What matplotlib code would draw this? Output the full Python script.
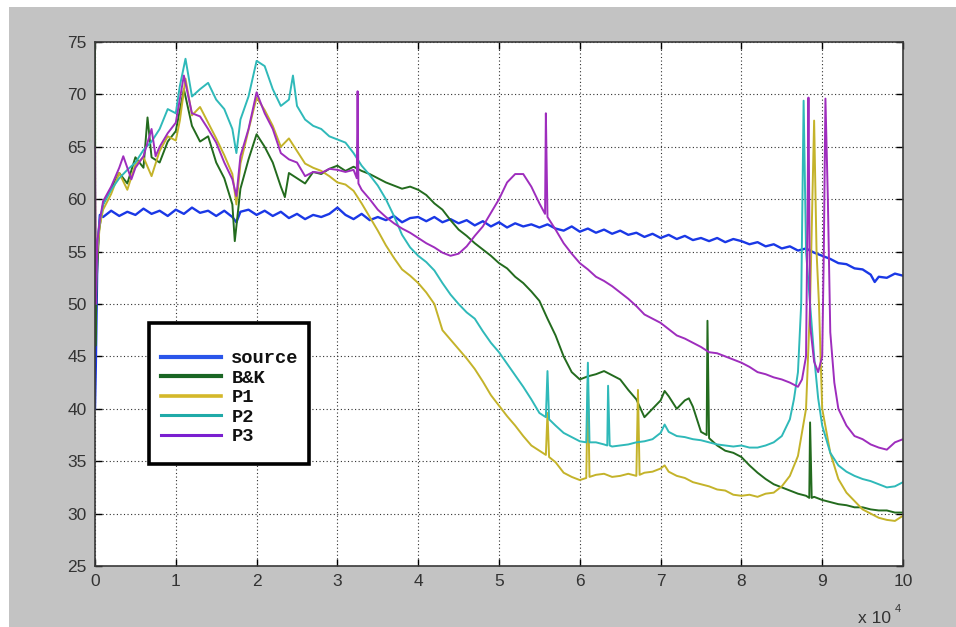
import matplotlib
matplotlib.use("Agg")
import matplotlib.pyplot as plt
from matplotlib.patches import Rectangle

# frequency axis is in units of 10^4, levels in dB
src_x = [0, 0.01, 0.03, 0.06, 0.1, 0.2, 0.3, 0.4, 0.5, 0.6, 0.7, 0.8, 0.9, 1.0,
         1.1, 1.2, 1.3, 1.4, 1.5, 1.6, 1.7, 1.75, 1.8, 1.9, 2.0, 2.1, 2.2, 2.3,
         2.4, 2.5, 2.6, 2.7, 2.8, 2.9, 3.0, 3.1, 3.2, 3.3, 3.4, 3.5, 3.6, 3.7,
         3.8, 3.9, 4.0, 4.1, 4.2, 4.3, 4.4, 4.5, 4.6, 4.7, 4.8, 4.9, 5.0, 5.1,
         5.2, 5.3, 5.4, 5.5, 5.6, 5.7, 5.8, 5.9, 6.0, 6.1, 6.2, 6.3, 6.4, 6.5,
         6.6, 6.7, 6.8, 6.9, 7.0, 7.1, 7.2, 7.3, 7.4, 7.5, 7.6, 7.7, 7.8, 7.9,
         8.0, 8.1, 8.2, 8.3, 8.4, 8.5, 8.6, 8.7, 8.8, 8.9, 9.0, 9.1, 9.2, 9.3,
         9.4, 9.5, 9.6, 9.65, 9.7, 9.8, 9.9, 10.0]
src_y = [40, 44, 55, 58.5, 58.3, 58.9, 58.4, 58.8, 58.5, 59.1, 58.6, 58.9, 58.4, 59.0,
         58.6, 59.2, 58.7, 58.9, 58.4, 58.9, 58.3, 57.8, 58.8, 59.0, 58.5, 58.9, 58.4, 58.8,
         58.2, 58.6, 58.1, 58.5, 58.3, 58.6, 59.2, 58.5, 58.1, 58.6, 58.0, 58.3, 58.0, 58.4,
         57.8, 58.2, 58.3, 57.9, 58.3, 57.8, 58.1, 57.7, 58.0, 57.5, 57.9, 57.4, 57.8, 57.3,
         57.7, 57.4, 57.6, 57.3, 57.6, 57.2, 57.0, 57.4, 56.9, 57.2, 56.8, 57.1, 56.7, 57.0,
         56.6, 56.8, 56.4, 56.7, 56.3, 56.6, 56.2, 56.5, 56.1, 56.3, 56.0, 56.3, 55.9, 56.2,
         56.0, 55.7, 55.9, 55.5, 55.7, 55.3, 55.5, 55.1, 55.3, 54.9, 54.6, 54.3, 53.9, 53.8,
         53.4, 53.3, 52.8, 52.1, 52.6, 52.5, 52.9, 52.7]

bk_x = [0, 0.005, 0.02, 0.05, 0.1, 0.2, 0.3, 0.4, 0.5, 0.6, 0.65, 0.7, 0.8, 0.9, 1.0,
        1.1, 1.2, 1.3, 1.4, 1.5, 1.6, 1.7, 1.73, 1.8, 1.9, 2.0, 2.1, 2.2, 2.3,
        2.35, 2.4, 2.5, 2.6, 2.7, 2.8, 2.9, 3.0, 3.1, 3.2, 3.3, 3.4, 3.5, 3.6,
        3.7, 3.8, 3.9, 4.0, 4.1, 4.2, 4.3, 4.4, 4.5, 4.6, 4.7, 4.8, 4.9, 5.0,
        5.1, 5.2, 5.3, 5.4, 5.5, 5.6, 5.7, 5.8, 5.9, 6.0, 6.1, 6.2, 6.3, 6.4,
        6.5, 6.6, 6.7, 6.8, 6.9, 7.0, 7.05, 7.1, 7.2, 7.3, 7.35, 7.4, 7.5, 7.57,
        7.58, 7.6, 7.7, 7.8, 7.9, 8.0, 8.1, 8.2, 8.3, 8.4, 8.5, 8.6, 8.7, 8.8,
        8.84, 8.85, 8.87, 8.9, 9.0, 9.1, 9.2, 9.3, 9.4, 9.5, 9.6, 9.7, 9.8, 9.9, 10.0]
bk_y = [76, 46, 52, 57, 59.5, 61.0, 62.5, 61.5, 64.0, 63.0, 67.8, 64.0, 63.5, 65.5, 66.5,
        70.5, 67.0, 65.5, 66.0, 63.5, 62.0, 59.5, 56.0, 61.0, 63.8, 66.2, 65.0, 63.5, 61.2,
        60.2, 62.5, 62.0, 61.5, 62.6, 62.4, 62.9, 63.2, 62.7, 63.1, 62.7, 62.4, 62.0, 61.6,
        61.3, 61.0, 61.2, 60.9, 60.4, 59.6, 59.0, 58.0, 57.1, 56.5, 55.8, 55.2, 54.6, 53.9,
        53.4, 52.6, 52.0, 51.2, 50.3, 48.6, 47.0, 45.0, 43.5, 42.8, 43.1, 43.3, 43.6, 43.2,
        42.8, 41.8, 40.9, 39.2, 40.0, 40.8, 41.7, 41.2, 40.0, 40.8, 41.0, 40.2, 37.8, 37.5,
        48.4, 37.2, 36.5, 36.0, 35.8, 35.4, 34.6, 33.9, 33.3, 32.8, 32.5, 32.2, 31.9, 31.7,
        31.5, 38.7, 31.5, 31.6, 31.3, 31.1, 30.9, 30.8, 30.6, 30.6, 30.4, 30.3, 30.3, 30.1, 30.1]

p1_x = [0, 0.01, 0.03, 0.06, 0.1, 0.2, 0.3, 0.4, 0.5, 0.6, 0.7, 0.8, 0.9, 1.0,
        1.05, 1.12, 1.2, 1.3, 1.4, 1.5, 1.6, 1.7, 1.75, 1.8, 1.9, 2.0, 2.1, 2.2,
        2.3, 2.4, 2.5, 2.6, 2.7, 2.8, 2.9, 3.0, 3.1, 3.2, 3.3, 3.4, 3.5, 3.6,
        3.7, 3.8, 3.9, 4.0, 4.1, 4.2, 4.3, 4.4, 4.5, 4.6, 4.7, 4.8, 4.9, 5.0,
        5.1, 5.2, 5.3, 5.4, 5.5, 5.58, 5.6, 5.62, 5.7, 5.8, 5.9, 6.0, 6.08, 6.1,
        6.12, 6.2, 6.3, 6.4, 6.5, 6.6, 6.7, 6.72, 6.74, 6.8, 6.9, 7.0, 7.05, 7.1,
        7.2, 7.3, 7.4, 7.5, 7.6, 7.7, 7.8, 7.9, 8.0, 8.1, 8.2, 8.3, 8.4, 8.5,
        8.6, 8.7, 8.8, 8.85, 8.9, 8.93, 8.96, 9.0, 9.1, 9.2, 9.3, 9.4, 9.5, 9.6,
        9.7, 9.8, 9.9, 10.0]
p1_y = [61.5, 52, 55, 57.5, 59.0, 60.5, 62.5, 60.9, 63.3, 64.0, 62.2, 64.6, 66.0, 65.6,
        67.5, 71.5, 68.0, 68.8, 67.3, 65.8, 64.2, 62.4, 59.5, 63.4, 66.6, 69.7, 68.5, 67.0,
        65.0, 65.8, 64.6, 63.4, 63.0, 62.7, 62.2, 61.6, 61.4, 60.8, 59.6, 58.3, 57.0, 55.6,
        54.4, 53.3, 52.7, 52.0, 51.1, 50.0, 47.5, 46.6, 45.7, 44.8, 43.8, 42.6, 41.3, 40.3,
        39.3, 38.4, 37.4, 36.5, 36.0, 35.6, 39.6, 35.4, 34.9, 33.9, 33.5, 33.2, 33.4, 42.5,
        33.5, 33.7, 33.8, 33.5, 33.6, 33.8, 33.6, 41.8, 33.7, 33.9, 34.0, 34.3, 34.6, 34.0,
        33.6, 33.4, 33.0, 32.8, 32.6, 32.3, 32.2, 31.8, 31.7, 31.8, 31.6, 31.9, 32.0, 32.6,
        33.6, 35.5, 40.0, 50.0, 67.5, 55.0, 50.0, 40.0, 35.8, 33.3, 32.0, 31.2, 30.4, 30.0,
        29.6, 29.4, 29.3, 29.8]

p2_x = [0, 0.01, 0.03, 0.06, 0.1, 0.2, 0.3, 0.4, 0.5, 0.6, 0.7, 0.8, 0.9, 1.0,
        1.05, 1.12, 1.2, 1.3, 1.4, 1.5, 1.6, 1.7, 1.75, 1.8, 1.9, 2.0, 2.1, 2.2,
        2.3, 2.4, 2.45, 2.5, 2.6, 2.7, 2.8, 2.9, 3.0, 3.1, 3.2, 3.3, 3.4, 3.5,
        3.6, 3.7, 3.8, 3.9, 4.0, 4.1, 4.2, 4.3, 4.4, 4.5, 4.6, 4.7, 4.8, 4.9,
        5.0, 5.1, 5.2, 5.3, 5.4, 5.5, 5.58, 5.6, 5.62, 5.7, 5.8, 5.9, 6.0, 6.08,
        6.1, 6.12, 6.2, 6.3, 6.34, 6.35, 6.37, 6.4, 6.5, 6.6, 6.7, 6.8, 6.9, 7.0,
        7.05, 7.1, 7.2, 7.3, 7.4, 7.5, 7.6, 7.7, 7.8, 7.9, 8.0, 8.1, 8.2, 8.3,
        8.4, 8.5, 8.6, 8.65, 8.7, 8.74, 8.77, 8.8, 8.85, 8.9, 8.95, 9.0, 9.1, 9.2,
        9.3, 9.4, 9.5, 9.6, 9.7, 9.8, 9.9, 10.0]
p2_y = [55, 50, 56, 58, 59.5, 60.9, 62.0, 62.8, 63.5, 64.7, 65.5, 66.7, 68.6, 68.2,
        70.8, 73.4, 69.8, 70.5, 71.1, 69.5, 68.6, 66.7, 64.4, 67.6, 69.8, 73.2, 72.7, 70.5,
        68.9, 69.5, 71.8, 68.9, 67.6, 67.0, 66.7, 66.0, 65.7, 65.4, 64.4, 63.2, 62.3, 61.3,
        60.0, 58.4, 56.6, 55.4, 54.6, 54.0, 53.2, 52.0, 50.9, 50.0, 49.2, 48.6, 47.4, 46.3,
        45.4, 44.3, 43.2, 42.1, 40.9, 39.6, 39.2, 43.6, 39.0, 38.4, 37.7, 37.3, 36.9, 36.8,
        44.4, 36.8, 36.8, 36.6, 36.5, 42.2, 36.5, 36.4, 36.5, 36.6, 36.8, 36.9, 37.1, 37.7,
        38.5, 37.8, 37.4, 37.3, 37.1, 37.0, 36.8, 36.6, 36.5, 36.4, 36.5, 36.3, 36.3, 36.5,
        36.8, 37.4, 39.0, 40.9, 43.5, 50.0, 69.4, 55.0, 50.0, 45.0, 41.0, 38.4, 35.8, 34.6,
        34.0, 33.6, 33.3, 33.1, 32.8, 32.5, 32.6, 33.0]

p3_x = [0, 0.01, 0.03, 0.06, 0.1, 0.2, 0.3, 0.35, 0.45, 0.5, 0.6, 0.7, 0.75, 0.8,
        0.9, 1.0, 1.1, 1.2, 1.3, 1.4, 1.5, 1.6, 1.7, 1.75, 1.8, 1.9, 2.0, 2.1,
        2.2, 2.3, 2.4, 2.5, 2.6, 2.7, 2.8, 2.9, 3.0, 3.1, 3.2, 3.24, 3.25, 3.26,
        3.3, 3.4, 3.5, 3.6, 3.7, 3.8, 3.9, 4.0, 4.1, 4.2, 4.3, 4.4, 4.5, 4.6,
        4.7, 4.8, 4.9, 5.0, 5.1, 5.2, 5.3, 5.4, 5.5, 5.57, 5.58, 5.59, 5.6, 5.7,
        5.8, 5.9, 6.0, 6.1, 6.2, 6.3, 6.4, 6.5, 6.6, 6.7, 6.8, 6.9, 7.0, 7.1,
        7.2, 7.3, 7.4, 7.5, 7.6, 7.7, 7.8, 7.9, 8.0, 8.1, 8.2, 8.3, 8.4, 8.5,
        8.6, 8.7, 8.75, 8.8, 8.82, 8.83, 8.85, 8.9, 8.95, 9.0, 9.02, 9.04, 9.07, 9.1,
        9.15, 9.2, 9.3, 9.4, 9.5, 9.6, 9.7, 9.8, 9.9, 10.0]
p3_y = [65, 50, 56, 58, 59.8, 61.2, 63.0, 64.1, 61.9, 63.0, 64.1, 66.7, 64.1, 65.0,
        66.3, 67.3, 71.8, 68.2, 67.9, 66.7, 65.4, 63.5, 61.9, 60.3, 64.1, 66.7, 70.2, 68.2,
        66.7, 64.4, 63.8, 63.5, 62.2, 62.6, 62.5, 62.9, 62.8, 62.6, 62.8, 62.0, 70.3, 61.5,
        60.9, 60.0, 59.0, 58.3, 57.7, 57.2, 56.8, 56.3, 55.8, 55.4, 54.9, 54.6, 54.8, 55.5,
        56.5, 57.4, 58.7, 60.0, 61.6, 62.4, 62.4, 61.2, 59.6, 58.6, 68.2, 63.2, 58.3, 57.1,
        55.8, 54.8, 53.9, 53.3, 52.6, 52.2, 51.7, 51.1, 50.5, 49.8, 49.0, 48.6, 48.2, 47.6,
        47.0, 46.7, 46.3, 45.9, 45.4, 45.3, 45.0, 44.7, 44.4, 44.0, 43.5, 43.3, 43.0, 42.8,
        42.5, 42.1, 42.8, 45.0, 60.0, 69.7, 48.0, 44.5, 43.5, 45.0, 55.0, 69.6, 60.0, 47.3,
        42.5, 40.0, 38.4, 37.4, 37.1, 36.6, 36.3, 36.1, 36.8, 37.1]

labels = ["source", "B&K", "P1", "P2", "P3"]
colors = ["#1a38e6", "#236b1e", "#c4b32a", "#2fb9b9", "#9e2dbd"]
legend_colors = ["#2a55ea", "#1a6624", "#d4b82a", "#20aaa8", "#7a1fd0"]

W, H = 956, 627
fig = plt.figure(figsize=(W / 100, H / 100), dpi=100, facecolor="white")
fig.patches.append(Rectangle((9 / W, 0), 1 - 9 / W, 1 - 7 / H, transform=fig.transFigure,
                             facecolor="#c3c3c3", edgecolor="none", zorder=-10))

left, right, top, bottom = 95, 903, 42, 566
ax = fig.add_axes([left / W, 1 - bottom / H, (right - left) / W, (bottom - top) / H])
ax.set_facecolor("white")

series = [(src_x, src_y), (bk_x, bk_y), (p1_x, p1_y), (p2_x, p2_y), (p3_x, p3_y)]
widths = [1.7, 1.4, 1.4, 1.4, 1.4]
for (xs, ys), lab, col, lw in zip(series, labels, colors, widths):
    ax.plot(xs, ys, color=col, lw=lw, label=lab)

ax.set_xlim(0, 10)
ax.set_ylim(25, 75)
ax.set_xticks(range(0, 11))
ax.set_yticks(range(25, 80, 5))
ax.grid(True, color="#303030", linestyle=(0, (1, 2.2)), linewidth=0.8)
ax.tick_params(direction="in", length=5, width=1, top=True, right=True,
               labelsize=12.5, labelcolor="#333333", pad=6)
for lbl in ax.get_xticklabels() + ax.get_yticklabels():
    lbl.set_family("Liberation Sans")
for sp in ax.spines.values():
    sp.set_color("#3a3a3a")
    sp.set_linewidth(1.2)

# legend box
bx0, by0, bx1, by1 = 149, 323, 309, 464
box = Rectangle(((bx0 - left) / (right - left), (bottom - by1) / (bottom - top)),
                (bx1 - bx0) / (right - left), (by1 - by0) / (bottom - top),
                transform=ax.transAxes, facecolor="white", edgecolor="black",
                lw=2.6, zorder=4.5)
ax.add_patch(box)
leg = ax.legend(loc="upper left",
                bbox_to_anchor=((161 - left) / (right - left), (bottom - 350) / (bottom - top)),
                frameon=False, borderpad=0, borderaxespad=0, handlelength=3.2,
                handletextpad=0.55, labelspacing=0.13,
                prop={"family": "Liberation Mono", "weight": "bold", "size": 13.5})
leg.set_zorder(5)
for ln, c, w in zip(leg.get_lines(), legend_colors, [3.0, 3.0, 2.6, 2.2, 2.2]):
    ln.set_color(c)
    ln.set_linewidth(w)
for t in leg.get_texts():
    t.set_color("#111111")

fig.text(858 / W, 1 - 623 / H, "x 10", fontsize=12.5, family="Liberation Sans",
         color="#333333", va="baseline")
fig.text(895 / W, 1 - 612 / H, "4", fontsize=8, family="Liberation Sans",
         color="#333333", va="baseline")

fig.savefig("out.png", dpi=100, facecolor=fig.get_facecolor())
